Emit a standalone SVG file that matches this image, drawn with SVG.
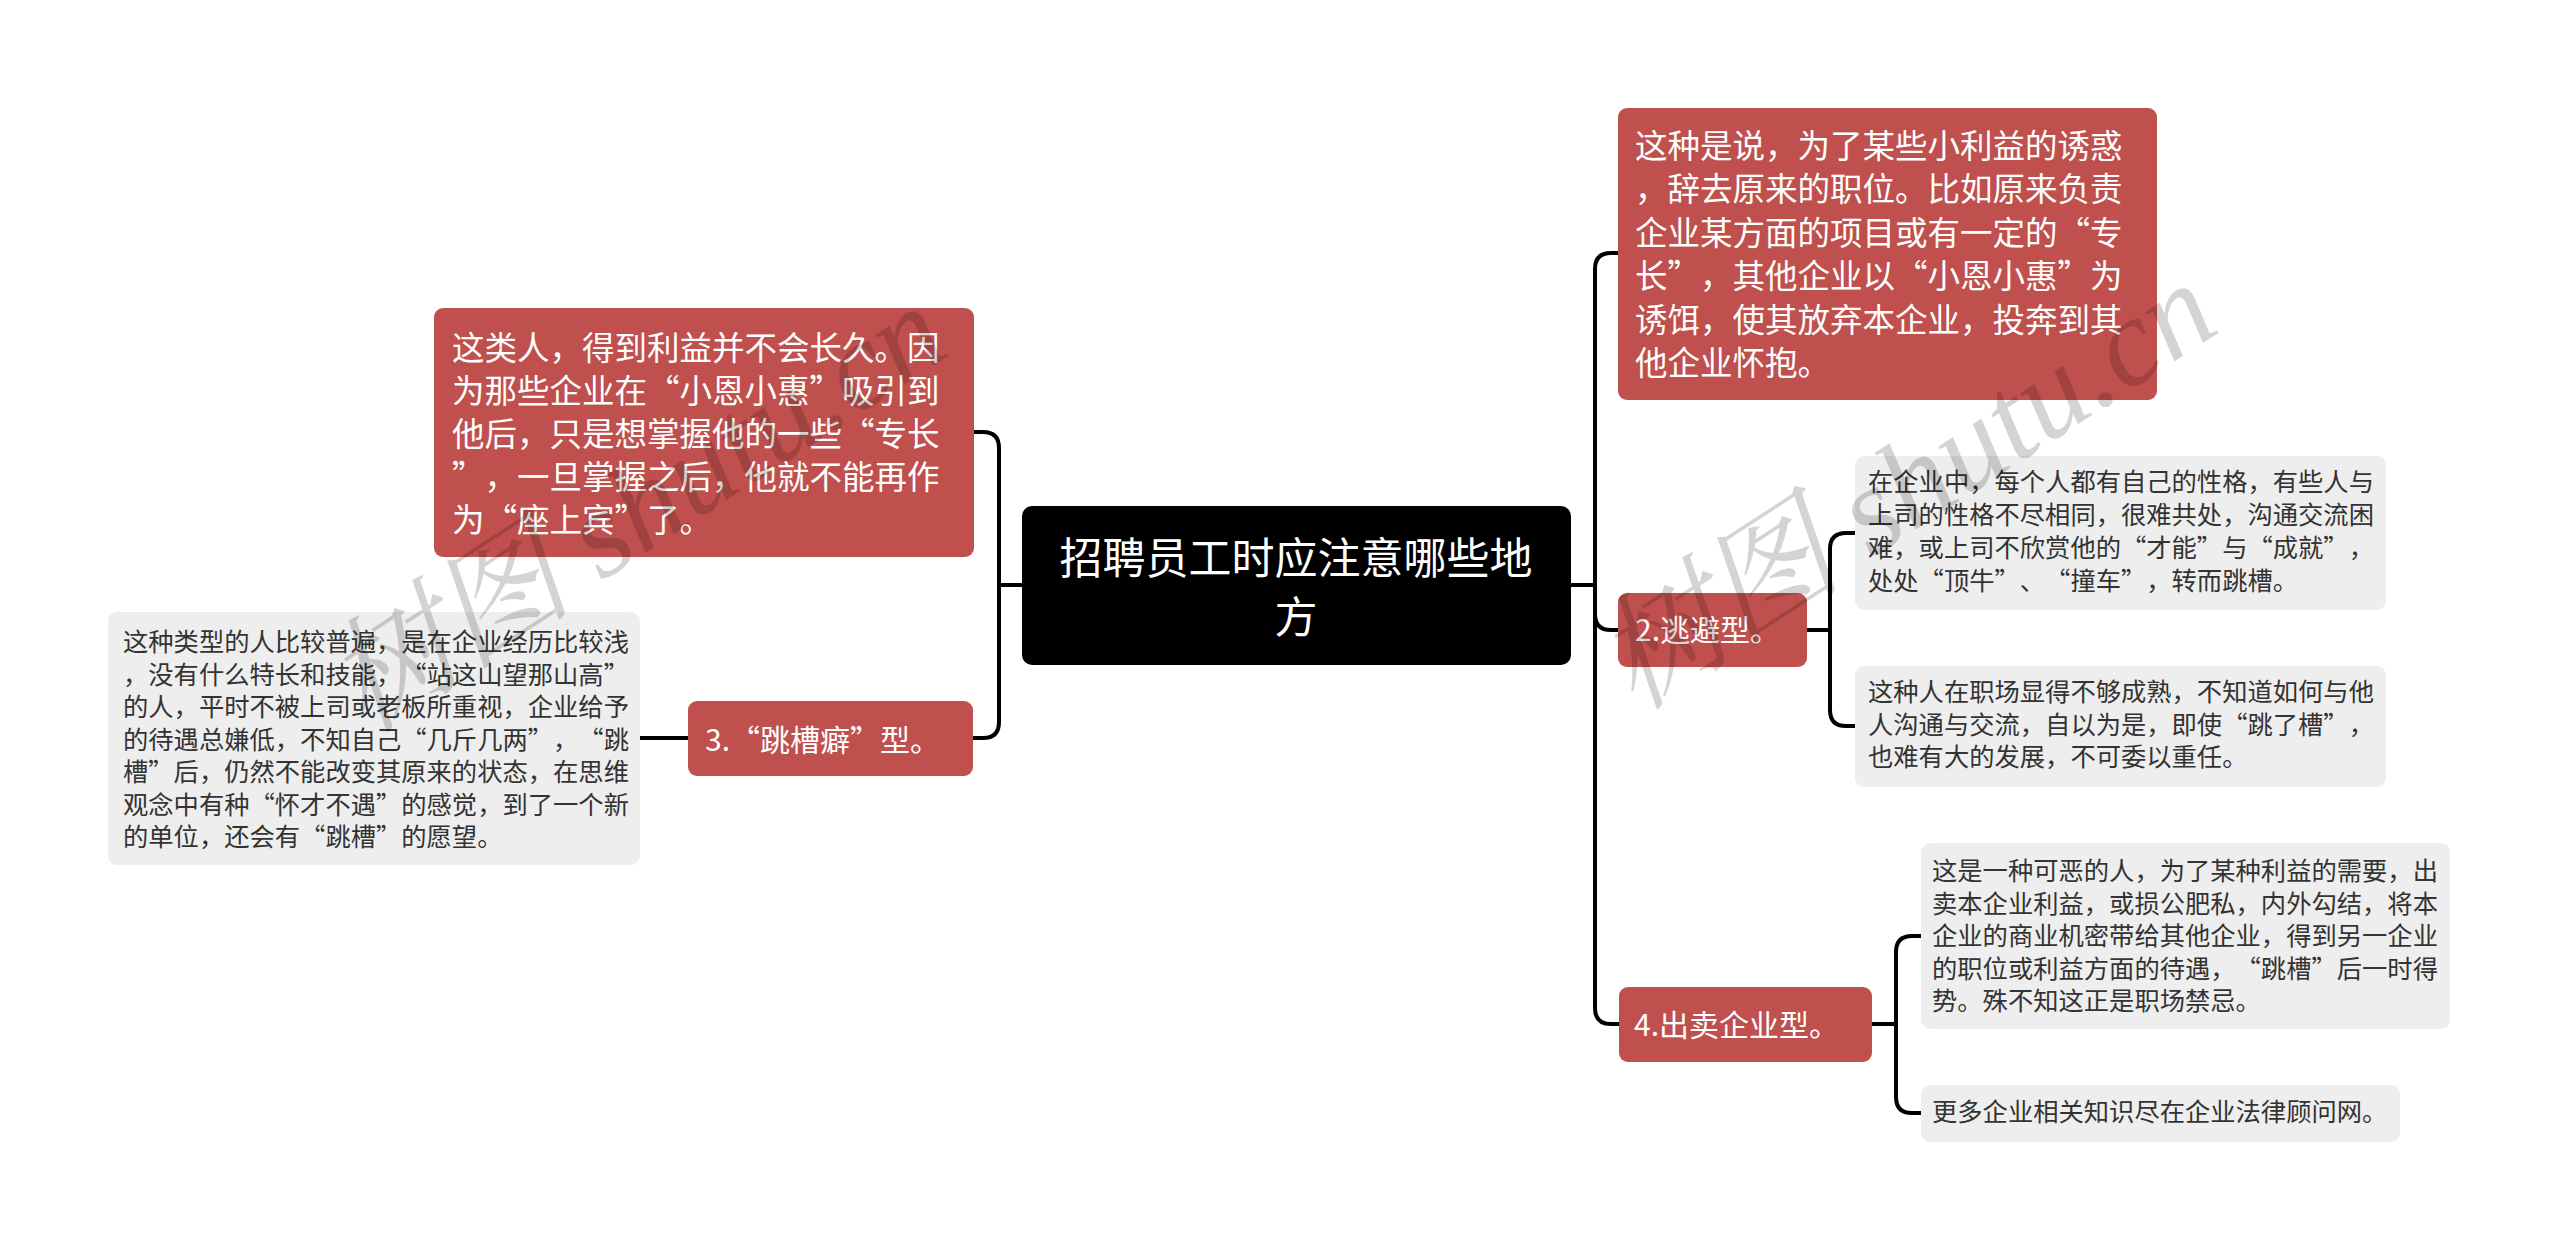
<svg xmlns="http://www.w3.org/2000/svg" width="2560" height="1251" viewBox="0 0 2560 1251">
<style>
text{font-family:"Noto Sans CJK SC","Noto Sans",sans-serif;text-spacing-trim:space-all}
.red{fill:#c0504d}
.gray{fill:#eeeeee}
.root{fill:#000000}
.tw{fill:#ffffff}
.tb{fill:#333333}
.big{font-size:32.5px}
.sm{font-size:25.3px}
.lab{font-size:30px}
.conn path{fill:none;stroke:#000;stroke-width:4}
.wm{font-family:"Liberation Serif","Noto Serif CJK SC","Noto Sans CJK SC",serif;font-style:italic;font-size:125px;fill:#000;fill-opacity:0.17}
</style>
<rect width="2560" height="1251" fill="#ffffff"/>
<g class="conn" id="connectors">
<path d="M1022,585 H999"/>
<path d="M974,432 H983 Q999,432 999,448 V722 Q999,738 983,738 H973"/>
<path d="M640,738 H688"/>
<path d="M1571,585 H1595"/>
<path d="M1618,253 H1611 Q1595,253 1595,269 V1008 Q1595,1024 1611,1024 H1619"/>
<path d="M1595,614 Q1595,630 1611,630 H1618"/>
<path d="M1807,630 H1830"/>
<path d="M1855,533 H1846 Q1830,533 1830,549 V710 Q1830,726 1846,726 H1855"/>
<path d="M1872,1024 H1896"/>
<path d="M1921,936 H1912 Q1896,936 1896,952 V1097 Q1896,1113 1912,1113 H1921"/>
</g>
<g id="root">
<rect class="root" x="1022" y="506" width="549" height="159" rx="10"/>
<text class="tw" x="1296" y="574" font-size="43" text-anchor="middle">招聘员工时应注意哪些地</text>
<text class="tw" x="1296" y="633" font-size="43" text-anchor="middle">方</text>
</g>
<g id="node-left1">
<rect class="red" x="434" y="308" width="540" height="249" rx="9"/>
<text class="tw big" x="452"><tspan x="452" y="360">这类人，得到利益并不会长久。因</tspan><tspan x="452" y="403">为那些企业在“小恩小惠”吸引到</tspan><tspan x="452" y="446">他后，只是想掌握他的一些“专长</tspan><tspan x="452" y="489">”，一旦掌握之后，他就不能再作</tspan><tspan x="452" y="532">为“座上宾”了。</tspan></text>
</g>
<g id="node-left3">
<rect class="red" x="688" y="701" width="285" height="75" rx="9"/>
<text class="tw lab" x="705" y="751">3.“跳槽癖”型。</text>
</g>
<g id="node-left3-detail">
<rect class="gray" x="108" y="612" width="532" height="253" rx="9"/>
<text class="tb sm"><tspan x="123" y="651">这种类型的人比较普遍，是在企业经历比较浅</tspan><tspan x="123" y="683.5">，没有什么特长和技能，“站这山望那山高”</tspan><tspan x="123" y="716">的人，平时不被上司或老板所重视，企业给予</tspan><tspan x="123" y="748.5">的待遇总嫌低，不知自己“几斤几两”，“跳</tspan><tspan x="123" y="781">槽”后，仍然不能改变其原来的状态，在思维</tspan><tspan x="123" y="813.5">观念中有种“怀才不遇”的感觉，到了一个新</tspan><tspan x="123" y="846">的单位，还会有“跳槽”的愿望。</tspan></text>
</g>
<g id="node-right1">
<rect class="red" x="1618" y="108" width="539" height="292" rx="9"/>
<text class="tw big"><tspan x="1635" y="158">这种是说，为了某些小利益的诱惑</tspan><tspan x="1635" y="201.4">，辞去原来的职位。比如原来负责</tspan><tspan x="1635" y="244.8">企业某方面的项目或有一定的“专</tspan><tspan x="1635" y="288.2">长”，其他企业以“小恩小惠”为</tspan><tspan x="1635" y="331.6">诱饵，使其放弃本企业，投奔到其</tspan><tspan x="1635" y="375">他企业怀抱。</tspan></text>
</g>
<g id="node-right2">
<rect class="red" x="1618" y="593" width="189" height="74" rx="9"/>
<text class="tw lab" x="1635" y="641">2.逃避型。</text>
</g>
<g id="node-right2-a">
<rect class="gray" x="1855" y="456" width="531" height="154" rx="9"/>
<text class="tb sm"><tspan x="1868" y="491">在企业中，每个人都有自己的性格，有些人与</tspan><tspan x="1868" y="524">上司的性格不尽相同，很难共处，沟通交流困</tspan><tspan x="1868" y="557">难，或上司不欣赏他的“才能”与“成就”，</tspan><tspan x="1868" y="590">处处“顶牛”、“撞车”，转而跳槽。</tspan></text>
</g>
<g id="node-right2-b">
<rect class="gray" x="1855" y="666" width="531" height="121" rx="9"/>
<text class="tb sm"><tspan x="1868" y="701">这种人在职场显得不够成熟，不知道如何与他</tspan><tspan x="1868" y="733.5">人沟通与交流，自以为是，即使“跳了槽”，</tspan><tspan x="1868" y="766">也难有大的发展，不可委以重任。</tspan></text>
</g>
<g id="node-right4">
<rect class="red" x="1619" y="987" width="253" height="75" rx="9"/>
<text class="tw lab" x="1634" y="1036">4.出卖企业型。</text>
</g>
<g id="node-right4-a">
<rect class="gray" x="1921" y="843" width="529" height="186" rx="9"/>
<text class="tb sm"><tspan x="1932" y="880">这是一种可恶的人，为了某种利益的需要，出</tspan><tspan x="1932" y="912.5">卖本企业利益，或损公肥私，内外勾结，将本</tspan><tspan x="1932" y="945">企业的商业机密带给其他企业，得到另一企业</tspan><tspan x="1932" y="977.5">的职位或利益方面的待遇，“跳槽”后一时得</tspan><tspan x="1932" y="1010">势。殊不知这正是职场禁忌。</tspan></text>
</g>
<g id="node-right4-b">
<rect class="gray" x="1921" y="1085" width="479" height="57" rx="9"/>
<text class="tb sm" x="1932" y="1121">更多企业相关知识尽在企业法律顾问网。</text>
</g>
<g id="watermark">
<text class="wm" transform="translate(365,735) rotate(-33)">树图 shutu.cn</text>
<text class="wm" transform="translate(1635,712) rotate(-33)">树图 shutu.cn</text>
</g>
</svg>
